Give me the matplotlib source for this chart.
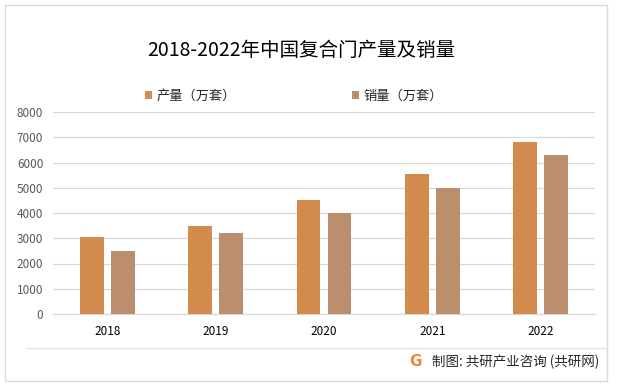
import matplotlib
matplotlib.use("Agg")
import matplotlib.pyplot as plt
from matplotlib.patches import Rectangle
from matplotlib.lines import Line2D

plt.rcParams['font.family'] = ['Noto Sans CJK SC', 'DejaVu Sans']

years = ["2018", "2019", "2020", "2021", "2022"]
production = [3050, 3500, 4500, 5550, 6800]
sales = [2500, 3200, 4000, 5000, 6300]
series_names = ["产量（万套）", "销量（万套）"]
yticks = [0, 1000, 2000, 3000, 4000, 5000, 6000, 7000, 8000]

W, H = 617, 386
fig = plt.figure(figsize=(W / 100, H / 100), dpi=100)
fig.patch.set_facecolor("white")

def fx(px):
    return px / W

def fy(py):
    return 1 - py / H

left, right, top, bottom = 53, 595, 112, 314
ax = fig.add_axes([fx(left), fy(bottom), fx(right - left), (bottom - top) / H])

x = list(range(len(years)))
bw = 0.221
off = 0.143
c_prod = "#D38B4D"
c_sales = "#BB8E6E"
b1 = ax.bar([i - off for i in x], production, width=bw, color=c_prod, label=series_names[0], zorder=3)
b2 = ax.bar([i + off for i in x], sales, width=bw, color=c_sales, label=series_names[1], zorder=3)

ax.set_xlim(-0.5, len(years) - 0.5)
ax.set_ylim(0, 8000)
ax.set_yticks(yticks)
ax.set_yticklabels([str(v) for v in yticks])
ax.set_xticks(x)
ax.set_xticklabels(years)
ax.yaxis.grid(True, color="#D9D9D9", linewidth=0.9, zorder=0)
ax.set_axisbelow(True)
for s in ["top", "right", "left"]:
    ax.spines[s].set_visible(False)
ax.spines["bottom"].set_color("#D9D9D9")
ax.spines["bottom"].set_linewidth(0.9)
ax.tick_params(axis="y", length=0, pad=7, labelsize=8.5, labelcolor="#595959")
ax.tick_params(axis="x", length=0, pad=8, labelsize=8.5, labelcolor="#000000")

leg = fig.legend(handles=[b1, b2], labels=series_names, loc="center",
                 bbox_to_anchor=(fx(294), fy(96)), ncol=2, frameon=False,
                 handlelength=0.55, handleheight=0.55, handletextpad=0.3,
                 columnspacing=8.8, fontsize=9.5)
for t in leg.get_texts():
    t.set_color("#262626")

fig.text(fx(301), fy(50), "2018-2022年中国复合门产量及销量", ha="center", va="center",
         fontsize=14, color="#000000")

# outer border
fig.add_artist(Rectangle((fx(5), fy(381)), fx(602), (381 - 5) / H, transform=fig.transFigure,
                         fill=False, edgecolor="#D9D9D9", linewidth=1.0))
# footer divider
fig.add_artist(Line2D([fx(27), fx(607)], [fy(348), fy(348)], transform=fig.transFigure,
                      color="#E3E3E3", linewidth=0.9))
# footer
fig.text(fx(415), fy(362), "G", ha="center", va="center", fontsize=11, fontweight="bold",
         color="#F0883A", family=["DejaVu Sans"])
fig.text(fx(432), fy(362), "制图: 共研产业咨询 (共研网)", ha="left", va="center",
         fontsize=9.7, color="#262626")

fig.savefig("out.png", dpi=100)
